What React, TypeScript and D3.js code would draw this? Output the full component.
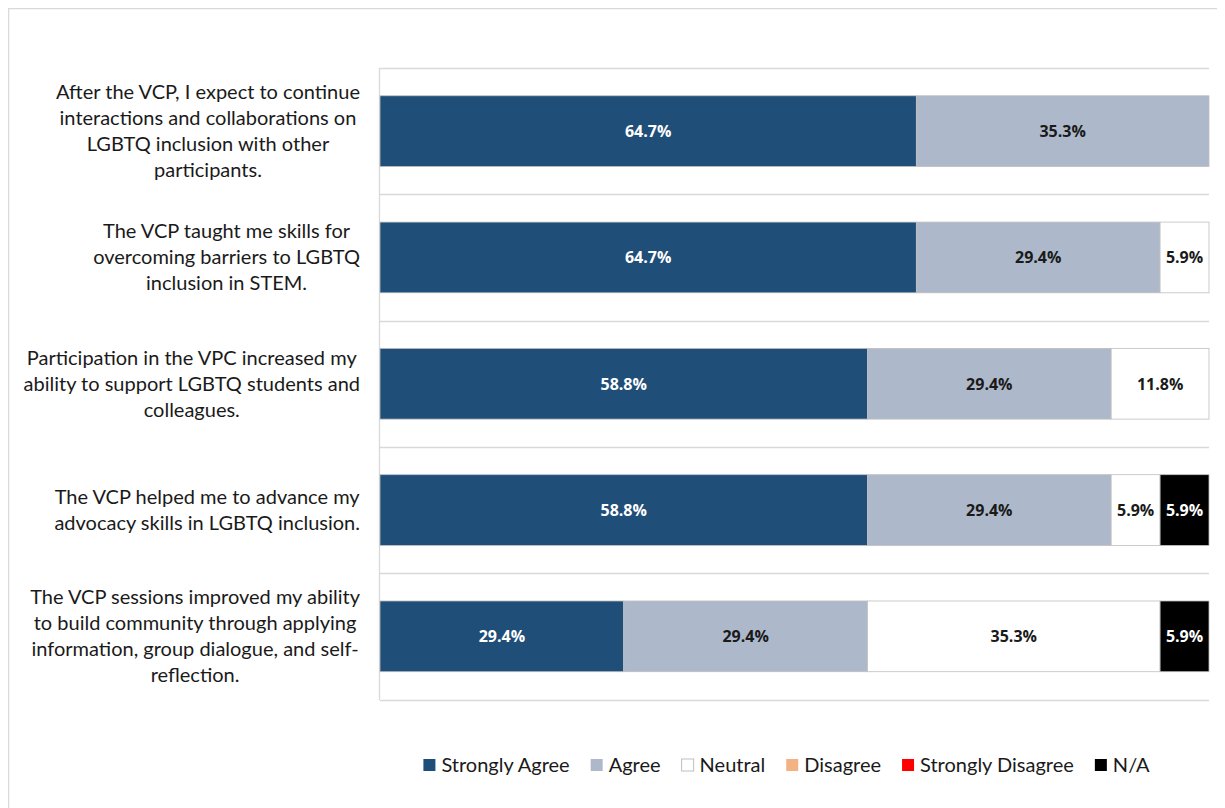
import React, { useEffect, useRef } from "react";
import * as d3 from "d3";

const categories = [
  "After the VCP, I expect to continue\ninteractions and collaborations on\nLGBTQ inclusion with other\nparticipants.",
  "The VCP taught me skills for\novercoming barriers to LGBTQ\ninclusion in STEM.",
  "Participation in the VPC increased my\nability to support LGBTQ students and\ncolleagues.",
  "The VCP helped me to advance my\nadvocacy skills in LGBTQ inclusion.",
  "The VCP sessions improved my ability\nto build community through applying\ninformation, group dialogue, and self-\nreflection.",
];
const seriesNames = ["Strongly Agree", "Agree", "Neutral", "Disagree", "Strongly Disagree", "N/A"];
const stronglyAgree = [64.7, 64.7, 58.8, 58.8, 29.4];
const agree = [35.3, 29.4, 29.4, 29.4, 29.4];
const neutral = [0, 5.9, 11.8, 5.9, 35.3];
const disagree = [0, 0, 0, 0, 0];
const stronglyDisagree = [0, 0, 0, 0, 0];
const na = [0, 0, 0, 5.9, 5.9];
const seriesColors = ["#1f4e79", "#adb9ca", "#ffffff", "#f4b183", "#ff0000", "#000000"];
const labelColors = ["#ffffff", "#1a1a1a", "#1a1a1a", "#1a1a1a", "#ffffff", "#ffffff"];

const W = 1225;
const H = 808;

export default function App() {
  const ref = useRef<SVGSVGElement>(null);

  useEffect(() => {
    const svg = d3.select(ref.current);
    svg.selectAll("*").remove();
    const root = svg.append("g").attr("transform", "translate(-8,-8)");

    // outer chart border
    root.append("rect")
      .attr("x", 8.5).attr("y", 8.5).attr("width", 1240).attr("height", 820)
      .attr("fill", "#ffffff").attr("stroke", "#d9d9d9").attr("stroke-width", 1.5);

    const values = [stronglyAgree, agree, neutral, disagree, stronglyDisagree, na];
    const rows = categories.map((c, i) => {
      const r: any = { cat: c };
      seriesNames.forEach((s, k) => (r[s] = values[k][i]));
      return r;
    });
    const stacked = d3.stack().keys(seriesNames)(rows);

    const x = d3.scaleLinear().domain([0, 100]).range([380, 1209]);
    const y = d3.scaleBand().domain(categories).range([68, 699.5]).paddingInner(0.44).paddingOuter(0.22);
    const step = y.step();

    // gridlines at category boundaries
    const gridYs = d3.range(categories.length + 1).map((i) => 68 + i * step);
    root.append("g").selectAll("line").data(gridYs).join("line")
      .attr("x1", x(0)).attr("x2", x(100))
      .attr("y1", (d) => Math.round(d) + 0.5).attr("y2", (d) => Math.round(d) + 0.5)
      .attr("stroke", "#d9d9d9").attr("stroke-width", 1.3);
    root.append("line")
      .attr("x1", x(0) - 0.5).attr("x2", x(0) - 0.5)
      .attr("y1", 68).attr("y2", 700)
      .attr("stroke", "#d9d9d9").attr("stroke-width", 1.3);

    // bars
    stacked.forEach((layer, k) => {
      const g = root.append("g");
      g.selectAll("rect").data(layer.filter((d) => d[1] - d[0] > 0)).join("rect")
        .attr("x", (d) => x(d[0]))
        .attr("width", (d) => x(d[1]) - x(d[0]))
        .attr("y", (d: any) => y(d.data.cat)!)
        .attr("height", y.bandwidth())
        .attr("fill", seriesColors[k])
        .attr("stroke", "#bfbfbf").attr("stroke-width", 0.8);
      g.selectAll("text").data(layer.filter((d) => d[1] - d[0] > 0)).join("text")
        .attr("x", (d) => (x(d[0]) + x(d[1])) / 2)
        .attr("y", (d: any) => y(d.data.cat)! + y.bandwidth() / 2)
        .attr("dy", "0.36em")
        .attr("text-anchor", "middle")
        .attr("font-family", "'Open Sans', sans-serif")
        .attr("font-weight", 700)
        .attr("font-size", 16)
        .attr("fill", labelColors[k])
        .text((d) => (d[1] - d[0]).toFixed(1) + "%");
    });

    // category labels
    const lineH = 26;
    categories.forEach((c) => {
      const lines = c.split("\n");
      const t = root.append("text")
        .attr("font-family", "Lato, sans-serif")
        .attr("font-size", 20)
        .attr("fill", "#1a1a1a")
        .attr("text-anchor", "middle");
      const cy = y(c)! + y.bandwidth() / 2;
      const top = cy - ((lines.length - 1) * lineH) / 2;
      const spans = lines.map((l, i) =>
        t.append("tspan").attr("y", top + i * lineH).attr("dy", "0.35em").text(l)
      );
      const maxW = d3.max(spans, (s) => (s.node() as SVGTSpanElement).getComputedTextLength()) || 0;
      const cx = 360 - maxW / 2;
      spans.forEach((s) => s.attr("x", cx));
    });

    // legend
    const legend = root.append("g");
    const sq = 12;
    const gap = 21;
    let cursor = 0;
    const items: any[] = [];
    seriesNames.forEach((name, k) => {
      const g = legend.append("g");
      g.append("rect")
        .attr("x", 0).attr("y", -sq / 2).attr("width", sq).attr("height", sq)
        .attr("fill", seriesColors[k])
        .attr("stroke", k === 2 ? "#bfbfbf" : "none").attr("stroke-width", 1);
      const tx = g.append("text")
        .attr("x", sq + 6).attr("dy", "0.35em")
        .attr("font-family", "Lato, sans-serif")
        .attr("font-size", 20)
        .attr("fill", "#1a1a1a")
        .text(name);
      const w = sq + 6 + (tx.node() as SVGTextElement).getComputedTextLength();
      items.push({ g, x: cursor });
      cursor += w + gap;
    });
    const total = cursor - gap;
    const start = 786.5 - total / 2;
    items.forEach((it) => it.g.attr("transform", `translate(${start + it.x},765)`));
  }, []);

  return (
    <svg ref={ref} width={W - 8} height={H - 8} style={{ display: "block" }} />
  );
}
